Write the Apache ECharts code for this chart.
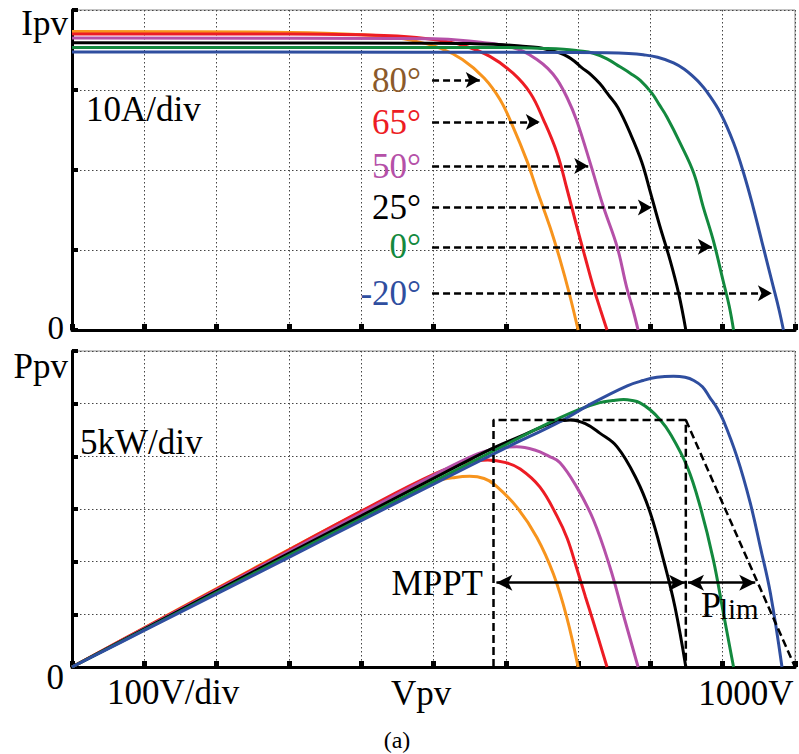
<!DOCTYPE html>
<html><head><meta charset="utf-8">
<script src="https://cdn.jsdelivr.net/npm/echarts@6/dist/echarts.min.js"></script>
<style>html,body{margin:0;padding:0;background:#fff}#c{width:799px;height:754px}</style>
</head><body><div id="c"></div>
<script>
// ---------- I-V curves [V, A] ----------
const ivT80 = [[0,37.3],[250,37.25],[350,37.1],[420,36.8],[470,36.2],[510,35.2],[540,33.8],[570,31.5],[592,28.8],[610,25.4],[629,21.2],[643,17.5],[661,12.9],[675,8.8],[688,4.5],[700,0]];
const ivT65 = [[0,37.0],[300,37.0],[400,36.9],[450,36.75],[500,36.3],[540,35.6],[578,34.2],[610,32.1],[634,29.6],[652,26.3],[671,22.1],[685,17.5],[698,13],[710,9],[721,5.4],[731,2.5],[740,0]];
const ivT50 = [[0,36.5],[450,36.45],[500,36.4],[541,36.2],[570,35.9],[590,35.7],[606,35.4],[625,34.8],[643,33.8],[658,32.7],[671,31.3],[685,29],[698,26.2],[717,20.8],[735,15.4],[754,10.4],[767,5.4],[776,2.5],[783,0]];
const ivT25 = [[0,35.9],[500,35.85],[550,35.8],[590,35.7],[620,35.5],[645,35.3],[660,35],[675,34.6],[685,34.2],[695,33.6],[705,32.8],[718,31.9],[730,30.8],[742,29.4],[755,27.8],[772,24.6],[788,21],[800,17.2],[813,13],[827,8.8],[839,4.6],[849,0]];
const ivT0  = [[0,35.3],[600,35.3],[650,35.2],[680,35.1],[700,34.9],[721,34.6],[740,33.9],[758,32.9],[772,32.1],[786,31.2],[802,29.6],[812,28.2],[823,26.6],[841,23.4],[860,19.6],[873,15.4],[887,11.2],[901,6],[909,3],[915,0]];
const ivTm20= [[0,34.75],[700,34.7],[740,34.65],[770,34.55],[790,34.4],[810,34.1],[832,33.4],[847,32.6],[860,31.6],[870,30.7],[878,29.8],[897,27.1],[915,23.4],[929,19.6],[942,15.4],[956,10.4],[970,5.4],[978,2.5],[984,0]];

// ---------- P-V curves [V, kW] ----------
const pvT80 = [[0,0],[100,3.72],[200,7.45],[300,11.15],[400,14.75],[450,16.4],[500,17.6],[530,18.0],[550,18.1],[570,17.9],[585,17.3],[615,15.2],[643,12.3],[666,8.8],[684,4.8],[700,0]];
const pvT65 = [[0,0],[100,3.7],[200,7.4],[300,11.1],[400,14.8],[500,18.3],[550,19.5],[575,19.65],[600,19.4],[620,18.8],[647,17.1],[671,14.3],[685,12.2],[698,9.4],[710,6.7],[721,4.3],[740,0]];
const pvT50 = [[0,0],[100,3.65],[200,7.3],[300,10.95],[400,14.6],[500,18.2],[560,20.2],[590,20.8],[615,20.9],[640,20.6],[660,20.0],[675,19.4],[698,17.1],[721,14],[744,9.5],[762,5.1],[783,0]];
const pvT25 = [[0,0],[100,3.6],[200,7.2],[300,10.8],[400,14.35],[500,17.9],[580,20.7],[620,21.9],[650,22.8],[670,23.3],[690,23.45],[710,23.1],[730,22.2],[754,20.9],[781,17.8],[800,14.6],[818,10.2],[834,5.7],[849,0]];
const pvT0  = [[0,0],[100,3.53],[200,7.06],[300,10.6],[400,14.1],[500,17.6],[600,21.1],[650,22.85],[700,24.4],[730,25.1],[748,25.3],[763,25.4],[775,25.3],[785,25.1],[800,24.4],[813,23.5],[827,22.2],[851,19],[869,15.2],[887,10.2],[901,5.1],[915,0]];
const pvTm20= [[0,0],[100,3.47],[200,6.94],[300,10.4],[400,13.9],[500,17.35],[600,20.8],[675,23.3],[721,25.1],[768,26.7],[790,27.2],[809,27.5],[832,27.6],[848,27.5],[860,27.2],[872,26.6],[882,25.6],[892,24.6],[901,23.4],[920,19.9],[938,15.6],[952,11.4],[966,7],[982,0]];

// ---------- annotations ----------
const tempLabels = ['80°','65°','50°','25°','0°','-20°'];
const arrowStartV = 498;
const arrowEndV = [564,647,714,802,885,968];
const arrowLevelI = [31.25,26,20.5,15.3,10.4,4.6];
const mpptBox = [[583,0],[583,23.45],[849,23.45],[849,0]];
const plimLine = [[849,23.45],[1000,0]];
const mpptArrow = [[587,8.0],[848,8.0]];
const plimArrow = [[852,8.0],[945,8.0]];

// axis ranges / labels
const vRange = [0,1000,100];
const iRange = [0,40,10];
const pRange = [0,30,5];
const textIpv = 'Ipv', textIdiv = '10A/div', textPpv = 'Ppv', textPdiv = '5kW/div';
const textVdiv = '100V/div', textVpv = 'Vpv', textVmax = '1000V', textZero = '0';
const textMPPT = 'MPPT', textP = 'P', textLim = 'lim', textCaption = '(a)';

// ---------- styles ----------
const curveColors = ['#F7941D','#ED1C24','#B550A8','#000000','#13893E','#2F4E9F'];
const labelColors = ['#8B5A2B','#ED1C24','#B550A8','#000000','#13893E','#2F4E9F'];
const FONT = 'Liberation Serif';

const chart = echarts.init(document.getElementById('c'), null, {renderer:'svg'});

function xAxisCfg(gi){
  return {type:'value', gridIndex:gi, min:vRange[0], max:vRange[1], interval:vRange[2],
    axisLine:{show:true, onZero:false, lineStyle:{color:'#000', width:3}},
    axisTick:{show:true, inside:true, length:6, lineStyle:{color:'#000', width:5}},
    axisLabel:{show:false},
    splitLine:{show:true, lineStyle:{color:'#444', width:1, type:[1.5,2.5]}}};
}
function yAxisCfg(gi, r){
  return {type:'value', gridIndex:gi, min:r[0], max:r[1], interval:r[2],
    axisLine:{show:true, onZero:false, lineStyle:{color:'#000', width:3}},
    axisTick:{show:true, inside:true, length:6, lineStyle:{color:'#000', width:4}},
    axisLabel:{show:false},
    splitLine:{show:true, lineStyle:{color:'#444', width:1, type:[1.5,2.5]}}};
}

const ivData = [ivT80, ivT65, ivT50, ivT25, ivT0, ivTm20];
const pvData = [pvT80, pvT65, pvT50, pvT25, pvT0, pvTm20];
const series = [];
ivData.forEach((d,i)=>series.push({type:'line', xAxisIndex:0, yAxisIndex:0, data:d, showSymbol:false,
  smooth:0.4, lineStyle:{color:curveColors[i], width:3}, z:2}));
pvData.forEach((d,i)=>series.push({type:'line', xAxisIndex:1, yAxisIndex:1, data:d, showSymbol:false,
  smooth:0.4, lineStyle:{color:curveColors[i], width:3}, z:2}));

// temperature arrows (top)
series.push({type:'line', xAxisIndex:0, yAxisIndex:0, data:[], z:4,
  markLine:{silent:true, animation:false, symbol:['none','arrow'], symbolSize:[12,14],
    lineStyle:{color:'#000', width:2.5, type:[7,4]}, label:{show:false},
    data: tempLabels.map((t,i)=>[
      {coord:[arrowStartV, arrowLevelI[i]]},
      {coord:[arrowEndV[i], arrowLevelI[i]]}
    ])}
});

// MPPT box + Plim diagonal (bottom)
series.push({type:'line', xAxisIndex:1, yAxisIndex:1, data:mpptBox, showSymbol:false, z:3,
  lineStyle:{color:'#000', width:2.5, type:[8,4]},
  markLine:{silent:true, animation:false, symbol:['arrow','arrow'], symbolSize:[12,16],
    lineStyle:{color:'#000', width:2.5, type:'solid'}, label:{show:false},
    data:[
      [{coord:mpptArrow[0]},{coord:mpptArrow[1]}],
      [{coord:plimArrow[0]},{coord:plimArrow[1]}]
    ]}
});
series.push({type:'line', xAxisIndex:1, yAxisIndex:1, data:plimLine, showSymbol:false, z:3,
  lineStyle:{color:'#000', width:2.5, type:[8,4]}});

function txt(x,y,s,align,size,color){
  return {type:'text', x:x, y:y, z:100, style:{text:s, fontFamily:FONT, fontSize:size||35,
    lineHeight:Math.round((size||35)*0.8), fill:color||'#000', align:align||'left', verticalAlign:'middle'}};
}

chart.setOption({
  animation:false,
  backgroundColor:'#fff',
  textStyle:{fontFamily:FONT},
  grid:[
    {left:72, top:10, width:723, height:320, show:true, borderColor:'#8a8a8a', borderWidth:1},
    {left:72, top:351, width:723, height:316, show:true, borderColor:'#8a8a8a', borderWidth:1}
  ],
  xAxis:[xAxisCfg(0), xAxisCfg(1)],
  yAxis:[yAxisCfg(0, iRange), yAxisCfg(1, pRange)],
  series:series
});

// temperature labels placed at the arrow starts through the chart's own scales
const tempTexts = tempLabels.map((t,i)=>{
  const p = chart.convertToPixel({gridIndex:0}, [arrowStartV, arrowLevelI[i]]);
  return txt(p[0]-11, p[1], t, 'right', 35, labelColors[i]);
});

chart.setOption({
  graphic:[
    txt(68,23,textIpv,'right'),
    txt(86,109,textIdiv,'left'),
    txt(64,328,textZero,'right',33),
    txt(68,366,textPpv,'right'),
    txt(80,442,textPdiv,'left'),
    txt(64,677,textZero,'right'),
    txt(107,692,textVdiv,'left'),
    txt(391,693,textVpv,'left'),
    txt(746,693,textVmax,'center'),
    txt(483,583,textMPPT,'right'),
    txt(701,605,textP,'left',36),
    txt(720,609,textLim,'left',29),
    txt(397,740,textCaption,'center',24)
  ].concat(tempTexts)
});
</script></body></html>
